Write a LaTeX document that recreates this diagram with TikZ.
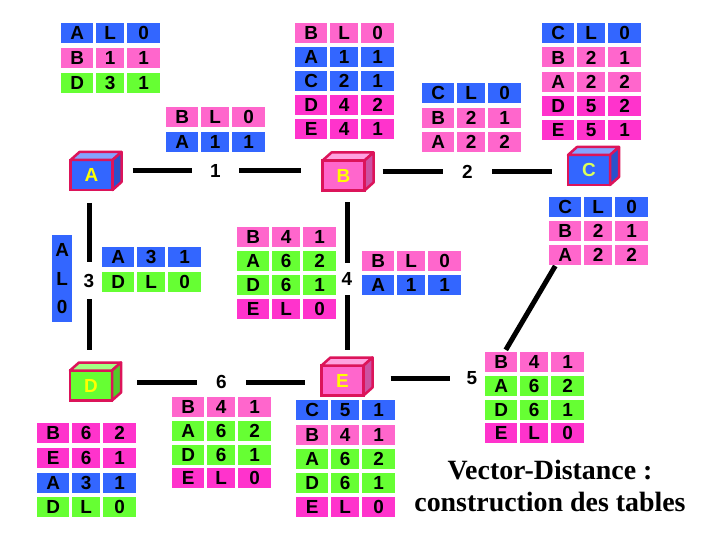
\documentclass[tikz,border=0pt]{standalone}
\usepackage{fontspec}
\newfontfamily\arial{Liberation Sans}
\newfontfamily\timesfont{Liberation Serif}

\definecolor{bleu}{RGB}{51,102,255}
\definecolor{vert}{RGB}{102,255,51}
\definecolor{rose}{RGB}{255,102,204}
\definecolor{fuchsia}{RGB}{255,51,204}
\definecolor{cramoisi}{RGB}{220,20,90}
\definecolor{jaune}{RGB}{255,255,0}
\definecolor{citron}{RGB}{220,255,90}

\newcommand{\police}{\arial\bfseries\fontsize{19}{20}\selectfont}

% une ligne de table : nom, x, y, couleur, trois cases
\newcommand{\rangee}[7]{%
  \node[case, fill=#4, minimum width=32bp] (#1a) at ({#2},{#3}) {#5};
  \node[case, fill=#4, minimum width=28bp] (#1b) at ({#2+35},{#3}) {#6};
  \node[case, fill=#4, minimum width=33bp] (#1c) at ({#2+66},{#3}) {#7};}
% une table : nom, x, y, pas, lignes
\newcommand{\tableau}[5]{%
  \foreach \f/\u/\v/\w [count=\i] in {#5}
    {\rangee{#1-\i}{#2}{#3+#4*(\i-1)}{\f}{\u}{\v}{\w}}}

\begin{document}
\begin{tikzpicture}[x=1bp, y=-1bp,
    case/.style={rectangle, anchor=north west, minimum height=20bp, inner sep=0pt, font=\police},
    routeur/.style={rectangle, draw=cramoisi, line width=2.5bp, outer sep=0pt,
      minimum width=42bp, minimum height=30bp, inner sep=0pt, font=\police},
    face/.style={draw=cramoisi, line width=2.5bp, line join=round},
    lien/.style={line width=5bp},
    etiq/.style={inner sep=0pt, font=\police}]
  \useasboundingbox (0,0) rectangle (720,540);

  % Routeurs (cubes)
  \foreach \n/\x/\y/\f/\t in {A/91.5/175/bleu/jaune, B/343.5/175.5/rose/jaune,
      C/589/170/bleu/citron, D/91/385.5/vert/jaune, E/342.5/380.5/rose/jaune}{
    \node[routeur, fill=\f, text=\t] (\n) at (\x,\y) {\n};
    \draw[face, fill=\f!60!white] (\n.north west) -- ++(9,-8) -- ++(42,0) -- (\n.north east) -- cycle;
    \draw[face, fill=\f!80!black] (\n.north east) -- ++(9,-8) -- ++(0,30) -- (\n.south east) -- cycle;
  }

  % Etiquettes des liens
  \node[etiq, minimum width=47bp] (l1) at (215.5,171) {1};
  \node[etiq, minimum width=49bp] (l2) at (467.5,172) {2};
  \node[etiq, minimum height=37bp] (l3) at (89,280.5) {3};
  \node[etiq, minimum height=32bp] (l4) at (347,279) {4};
  \node[etiq, minimum width=44bp] (l5) at (472,378) {5};
  \node[etiq, minimum width=49bp] (l6) at (221.5,382) {6};
  \coordinate (coin) at (488,380);

  % Liens
  \draw[lien, shorten <=20bp] (A.east |- l1) -- (l1.west);
  \draw[lien, shorten >=22bp] (l1.east) -- (B.west |- l1);
  \draw[lien, shorten <=18bp] (B.east |- l2) -- (l2.west);
  \draw[lien, shorten >=16bp] (l2.east) -- (C.west |- l2);
  \draw[lien, shorten <=13bp] (A.south -| l3) -- (l3.north);
  \draw[lien, shorten >=21bp] (l3.south) -- (D.north -| l3);
  \draw[lien, shorten <=12bp] (B.south -| l4) -- (l4.north);
  \draw[lien, shorten >=16bp] (l4.south) -- (E.north -| l4);
  \draw[lien, shorten <=25bp] (D.east |- l6) -- (l6.west);
  \draw[lien, shorten >=17bp] (l6.east) -- (E.west |- l6);
  \draw[lien, shorten <=27bp] (E.east |- l5) -- (l5.west);
  \draw[lien, shorten <=35bp, shorten >=94bp] (coin) -- ([xshift=-7bp]C.south east);

  % Tables des routeurs
  \tableau{tA}{61}{23}{25}{bleu/A/L/0, rose/B/1/1, vert/D/3/1}
  \tableau{tB}{295}{23}{24}{rose/B/L/0, bleu/A/1/1, bleu/C/2/1, fuchsia/D/4/2, fuchsia/E/4/1}
  \tableau{tC}{542}{23}{24.3}{bleu/C/L/0, rose/B/2/1, rose/A/2/2, fuchsia/D/5/2, fuchsia/E/5/1}
  \tableau{tD}{37}{423}{24.7}{fuchsia/B/6/2, fuchsia/E/6/1, bleu/A/3/1, vert/D/L/0}
  \tableau{tE}{296}{400}{24.3}{bleu/C/5/1, rose/B/4/1, vert/A/6/2, vert/D/6/1, fuchsia/E/L/0}

  % Vecteurs echanges
  \tableau{vAB}{166}{107}{25}{rose/B/L/0, bleu/A/1/1}
  \tableau{vBC}{422}{83}{24.5}{bleu/C/L/0, rose/B/2/1, rose/A/2/2}
  \tableau{vCE}{549}{197}{24}{bleu/C/L/0, rose/B/2/1, rose/A/2/2}
  \tableau{vAD}{102}{247}{25}{bleu/A/3/1, vert/D/L/0}
  \tableau{vBE}{237}{227}{24}{rose/B/4/1, vert/A/6/2, vert/D/6/1, fuchsia/E/L/0}
  \tableau{vEB}{362}{251}{24}{rose/B/L/0, bleu/A/1/1}
  \tableau{vED}{172}{397}{23.7}{rose/B/4/1, vert/A/6/2, vert/D/6/1, fuchsia/E/L/0}
  \tableau{vEC}{485}{352}{23.7}{rose/B/4/1, vert/A/6/2, vert/D/6/1, fuchsia/E/L/0}
  \node[case, fill=bleu, minimum width=20bp, minimum height=87bp, align=center,
    font=\arial\bfseries\fontsize{19}{28.5}\selectfont] (vDA) at (52,235) {A\\L\\0};

  % Titre
  \node[font=\timesfont\bfseries\fontsize{28}{32}\selectfont, align=center] (titre)
    at (550,486) {Vector-Distance :\\construction des tables};
\end{tikzpicture}
\end{document}
